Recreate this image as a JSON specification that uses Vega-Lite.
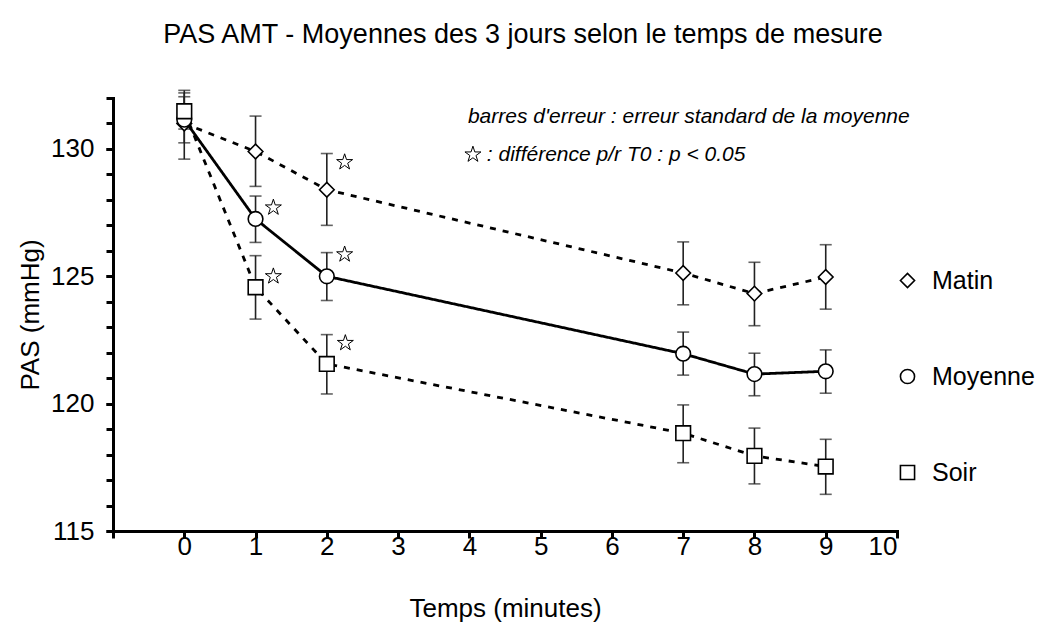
{
  "$schema": "https://vega.github.io/schema/vega-lite/v6.json",
  "autosize": {"type": "none"},
  "padding": {"left": 113, "top": 98, "right": 151, "bottom": 97},
  "width": 784,
  "height": 433,
  "background": "white",
  "config": {
    "view": {"stroke": null},
    "font": "Liberation Sans",
    "axis": {"grid": false, "domainColor": "black", "domainWidth": 3, "tickColor": "black", "tickWidth": 3, "tickSize": 7, "labelFont": "Liberation Sans", "labelFontSize": 26, "labelColor": "black", "labelOverlap": false, "labelBound": false, "titleFont": "Liberation Sans", "titleFontSize": 26, "titleFontWeight": "normal", "titleColor": "black", "domainCap": "square"}
  },
  "title": {"text": "PAS AMT - Moyennes des 3 jours selon le temps de mesure", "font": "Liberation Sans", "fontSize": 27, "fontWeight": "normal", "color": "black", "anchor": "middle", "offset": 41, "dx": 18},
  "resolve": {"axis": {"y": "independent"}},
  "datasets": {
    "series": [
      {"series": "Matin", "t": 0, "v": 131.0, "lo": 129.6, "hi": 132.3},
      {"series": "Matin", "t": 1, "v": 129.9, "lo": 128.53, "hi": 131.29},
      {"series": "Matin", "t": 2, "v": 128.4, "lo": 127.0, "hi": 129.82},
      {"series": "Matin", "t": 7, "v": 125.13, "lo": 123.88, "hi": 126.35},
      {"series": "Matin", "t": 8, "v": 124.32, "lo": 123.06, "hi": 125.55},
      {"series": "Matin", "t": 9, "v": 124.97, "lo": 123.71, "hi": 126.24},
      {"series": "Moyenne", "t": 0, "v": 131.15, "lo": 130.24, "hi": 132.05},
      {"series": "Moyenne", "t": 1, "v": 127.25, "lo": 126.33, "hi": 128.15},
      {"series": "Moyenne", "t": 2, "v": 125.0, "lo": 124.05, "hi": 125.93},
      {"series": "Moyenne", "t": 7, "v": 121.96, "lo": 121.12, "hi": 122.81},
      {"series": "Moyenne", "t": 8, "v": 121.16, "lo": 120.31, "hi": 121.98},
      {"series": "Moyenne", "t": 9, "v": 121.27, "lo": 120.41, "hi": 122.11},
      {"series": "Soir", "t": 0, "v": 131.48, "lo": 130.78, "hi": 132.2},
      {"series": "Soir", "t": 1, "v": 124.57, "lo": 123.32, "hi": 125.81},
      {"series": "Soir", "t": 2, "v": 121.56, "lo": 120.38, "hi": 122.71},
      {"series": "Soir", "t": 7, "v": 118.84, "lo": 117.68, "hi": 119.95},
      {"series": "Soir", "t": 8, "v": 117.95, "lo": 116.85, "hi": 119.04},
      {"series": "Soir", "t": 9, "v": 117.53, "lo": 116.44, "hi": 118.6}
    ],
    "stars": [
      {"t": 1.25, "v": 127.7},
      {"t": 1.25, "v": 125.0},
      {"t": 2.25, "v": 129.48},
      {"t": 2.25, "v": 125.86},
      {"t": 2.26, "v": 122.38},
      {"t": 4.05, "v": 129.78}
    ],
    "notes": [
      {"t": 3.98, "v": 131.25, "label": "barres d'erreur : erreur standard de la moyenne"},
      {"t": 4.245, "v": 129.78, "label": ": différence p/r T0 : p < 0.05"}
    ]
  },
  "layer": [
    {
      "data": {"name": "series"},
      "mark": {"type": "rule", "color": "#222222", "strokeWidth": 1.6},
      "encoding": {
        "x": {"field": "t", "type": "quantitative", "scale": {"domain": [-1, 10], "nice": false, "zero": false},
              "axis": {"values": [-1, 0, 1, 2, 3, 4, 5, 6, 7, 8, 9, 10], "format": "d", "labelOverlap": false, "labelExpr": "datum.value < 0 ? '' : datum.label", "labelPadding": -5, "title": "Temps (minutes)", "titlePadding": 36}},
        "y": {"field": "lo", "type": "quantitative", "scale": {"domain": [115, 132], "nice": false, "zero": false},
              "axis": {"orient": "left", "offset": 0, "values": [115, 120, 125, 130], "format": "d", "labelPadding": 12, "title": "PAS (mmHg)", "titlePadding": 7}},
        "y2": {"field": "hi"}
      }
    },
    {
      "data": {"name": "series"},
      "mark": {"type": "tick", "orient": "horizontal", "color": "#222222", "size": 12, "thickness": 1.6},
      "encoding": {
        "x": {"field": "t", "type": "quantitative"},
        "y": {"field": "lo", "type": "quantitative",
              "axis": {"orient": "left", "offset": 0, "values": [115, 116, 117, 118, 119, 120, 121, 122, 123, 124, 125, 126, 127, 128, 129, 130, 131, 132], "labels": false, "domain": false, "title": null}}
      }
    },
    {
      "data": {"name": "series"},
      "mark": {"type": "tick", "orient": "horizontal", "color": "#222222", "size": 12, "thickness": 1.6},
      "encoding": {
        "x": {"field": "t", "type": "quantitative"},
        "y": {"field": "hi", "type": "quantitative", "axis": null}
      }
    },
    {
      "data": {"name": "series"},
      "mark": {"type": "line", "color": "black", "strokeWidth": 2.8},
      "encoding": {
        "x": {"field": "t", "type": "quantitative"},
        "y": {"field": "v", "type": "quantitative", "axis": null},
        "detail": {"field": "series"},
        "strokeDash": {"field": "series", "type": "nominal", "scale": {"range": [[6, 7], [1, 0], [6, 7]]}, "legend": null}
      }
    },
    {
      "data": {"name": "series"},
      "mark": {"type": "point", "filled": false, "fill": "white", "stroke": "black", "strokeWidth": 1.6, "opacity": 1, "size": 215},
      "encoding": {
        "x": {"field": "t", "type": "quantitative"},
        "y": {"field": "v", "type": "quantitative", "axis": null},
        "shape": {"field": "series", "type": "nominal", "scale": {"domain": ["Matin", "Moyenne", "Soir"], "range": ["diamond", "circle", "square"]},
          "legend": {
            "title": null, "orient": "none", "legendX": 782, "legendY": 170, "padding": 0,
            "labelFont": "Liberation Sans", "labelFontSize": 25, "labelColor": "black", "labelOffset": 12,
            "symbolSize": 200, "symbolStrokeWidth": 1.6, "rowPadding": 70
          }}
      }
    },
    {
      "data": {"name": "stars"},
      "mark": {"type": "point", "filled": true, "fill": "white", "stroke": "black", "strokeWidth": 1, "size": 282, "opacity": 1,
               "shape": "M0,-1L0.2245,-0.309L0.951,-0.309L0.363,0.118L0.588,0.809L0,0.382L-0.588,0.809L-0.363,0.118L-0.951,-0.309L-0.2245,-0.309Z"},
      "encoding": {
        "x": {"field": "t", "type": "quantitative"},
        "y": {"field": "v", "type": "quantitative", "axis": null}
      }
    },
    {
      "data": {"name": "notes"},
      "mark": {"type": "text", "align": "left", "baseline": "middle", "font": "Liberation Sans", "fontStyle": "italic", "fontSize": 21, "color": "black"},
      "encoding": {
        "x": {"field": "t", "type": "quantitative"},
        "y": {"field": "v", "type": "quantitative", "axis": null},
        "text": {"field": "label"}
      }
    }
  ]
}
